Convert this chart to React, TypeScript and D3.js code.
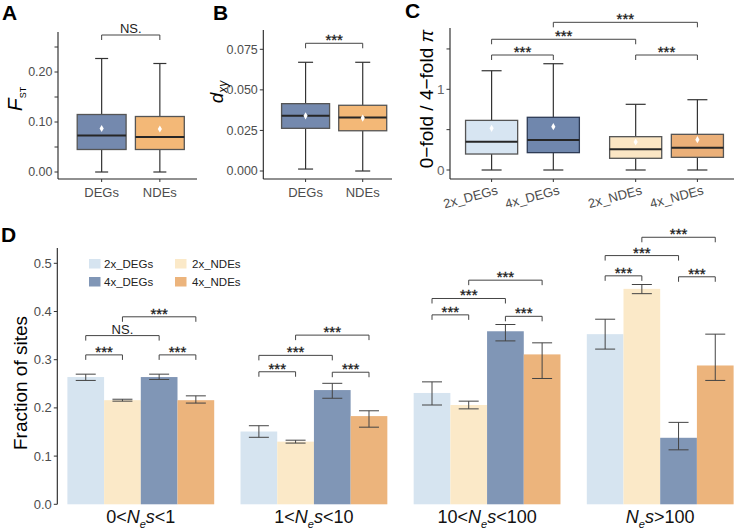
import React from 'react';
import * as d3 from 'd3';

const FONT = '"Liberation Sans", Arial, Helvetica, sans-serif';

// ---- panel A : Fst
const aCats = ['DEGs', 'NDEs'];
const aLow = [0, 0];
const aQ1 = [0.045, 0.045];
const aMed = [0.073, 0.07];
const aQ3 = [0.115, 0.111];
const aHigh = [0.227, 0.217];
const aMean = [0.087, 0.086];
const aTicks = [0, 0.1, 0.2];
const aTickLabels = ['0.00', '0.10', '0.20'];
const aMinor = [0.05, 0.15, 0.25];

// ---- panel B : dxy
const bCats = ['DEGs', 'NDEs'];
const bLow = [0.0012, 0];
const bQ1 = [0.0263, 0.0248];
const bMed = [0.034, 0.033];
const bQ3 = [0.0415, 0.0405];
const bHigh = [0.067, 0.067];
const bMean = [0.034, 0.0326];
const bTicks = [0, 0.025, 0.05, 0.075];
const bTickLabels = ['0.000', '0.025', '0.050', '0.075'];

// ---- panel C : 0-fold / 4-fold pi
const cGroups = ['DEGs', 'NDEs'];
const cSub = ['2x', '4x'];
const cLow = [0, 0, 0, 0];
const cQ1 = [0.198, 0.215, 0.145, 0.157];
const cMed = [0.35, 0.372, 0.256, 0.277];
const cQ3 = [0.615, 0.653, 0.413, 0.442];
const cHigh = [1.23, 1.317, 0.814, 0.871];
const cMean = [0.517, 0.537, 0.347, 0.376];
const cTicks = [0, 1];
const cTickLabels = ['0', '1'];
const cMinor = [0.5, 1.5];
// brackets: [from, to, y, label]
const cBrackets: [number, number, number, string][] = [
  [0, 1, 1.425, '***'],
  [2, 3, 1.425, '***'],
  [0, 2, 1.62, '***'],
  [1, 3, 1.83, '***'],
];

// ---- panel D : fraction of sites
const dSeries = ['2x_DEGs', '2x_NDEs', '4x_DEGs', '4x_NDEs'];
const dGroups = ['g1', 'g2', 'g3', 'g4'];
const dPre = ['0<', '1<', '10<', ''];
const dPost = ['<1', '<10', '<100', '>100'];
const dVal = [
  [0.264, 0.216, 0.264, 0.216],
  [0.151, 0.13, 0.237, 0.183],
  [0.231, 0.206, 0.359, 0.311],
  [0.353, 0.447, 0.138, 0.288],
];
const dLo = [
  [0.257, 0.214, 0.259, 0.21],
  [0.139, 0.127, 0.22, 0.16],
  [0.206, 0.198, 0.339, 0.261],
  [0.322, 0.437, 0.113, 0.257],
];
const dHi = [
  [0.27, 0.218, 0.27, 0.225],
  [0.163, 0.133, 0.251, 0.194],
  [0.254, 0.214, 0.373, 0.335],
  [0.384, 0.456, 0.17, 0.353],
];
const dTicks = [0, 0.1, 0.2, 0.3, 0.4, 0.5];
const dTickLabels = ['0.0', '0.1', '0.2', '0.3', '0.4', '0.5'];
const dPairs: [number, number][] = [
  [0, 1],
  [0, 2],
  [1, 3],
  [2, 3],
];
const dBracketY = [
  [0.31, 0.35, 0.389, 0.31],
  [0.275, 0.309, 0.351, 0.274],
  [0.393, 0.427, 0.465, 0.39],
  [0.474, 0.516, 0.554, 0.472],
];
const dBracketLab = [
  ['***', 'NS.', '***', '***'],
  ['***', '***', '***', '***'],
  ['***', '***', '***', '***'],
  ['***', '***', '***', '***'],
];

const barFill: Record<string, string> = {
  '2x_DEGs': '#d6e4f0',
  '2x_NDEs': '#fbe9c8',
  '4x_DEGs': '#8096b6',
  '4x_NDEs': '#ecb47c',
};
const boxFill: Record<string, string> = {
  '2x_DEGs': '#d7e5f2',
  '4x_DEGs': '#7087ad',
  '2x_NDEs': '#fbe6c4',
  '4x_NDEs': '#ebb079',
  DEGs: '#7489ae',
  NDEs: '#f3b877',
};

const diamond = d3.symbol(d3.symbolDiamond, 15)() as string;

type Lin = d3.ScaleLinear<number, number>;

const YAxis = ({ x, y, top, bottom, ticks, labels, minor = [], fs = 12.5, color = '#4d4d4d' }: any) => (
  <g>
    <line x1={x} x2={x} y1={top} y2={bottom} stroke="#222" strokeWidth={1.1} />
    {ticks.map((t: number, i: number) => (
      <g key={i}>
        <line x1={x - 3.5} x2={x} y1={y(t)} y2={y(t)} stroke="#333" />
        <text x={x - 5.5} y={y(t)} dy="0.35em" textAnchor="end" fontSize={fs} fill={color}>
          {labels[i]}
        </text>
      </g>
    ))}
    {minor.map((t: number, i: number) => (
      <line key={'m' + i} x1={x - 3.5} x2={x} y1={y(t)} y2={y(t)} stroke="#333" />
    ))}
  </g>
);

const Bracket = ({ x1, x2, y, label, fs = 15 }: any) => (
  <g>
    <path d={`M${x1},${y + 5}V${y}H${x2}V${y + 5}`} fill="none" stroke="#444" strokeWidth={1} />
    {label === 'NS.' ? (
      <text x={(x1 + x2) / 2} y={y - 2} textAnchor="middle" fontSize={13} fill="#222">
        {label}
      </text>
    ) : (
      <text x={(x1 + x2) / 2} y={y + 2} textAnchor="middle" fontSize={fs} fill="#1a1a1a" stroke="#1a1a1a" strokeWidth={0.3}>
        {label}
      </text>
    )}
  </g>
);

const BoxGlyph = ({ cx, w, y, low, q1, med, q3, high, mean, fill, stroke, cap }: any) => (
  <g>
    <line x1={cx} x2={cx} y1={y(high)} y2={y(q3)} stroke="#333" strokeWidth={1.2} />
    <line x1={cx} x2={cx} y1={y(q1)} y2={y(low)} stroke="#333" strokeWidth={1.2} />
    <line x1={cx - cap / 2} x2={cx + cap / 2} y1={y(high)} y2={y(high)} stroke="#333" strokeWidth={1.2} />
    <line x1={cx - cap / 2} x2={cx + cap / 2} y1={y(low)} y2={y(low)} stroke="#333" strokeWidth={1.2} />
    <rect x={cx - w / 2} y={y(q3)} width={w} height={y(q1) - y(q3)} fill={fill} stroke={stroke} strokeWidth={1.3} />
    <line x1={cx - w / 2} x2={cx + w / 2} y1={y(med)} y2={y(med)} stroke="#262626" strokeWidth={2} />
    <path d={diamond} transform={`translate(${cx},${y(mean)})`} fill="#fff" />
  </g>
);

const App = () => {
  // ---------- A
  const ayA: Lin = d3.scaleLinear().domain([0, 0.2]).range([172, 72]);
  const axA = d3.scaleBand().domain(aCats).range([58, 203.5]).paddingInner(0.16).paddingOuter(0.33);
  // ---------- B
  const ayB: Lin = d3.scaleLinear().domain([0, 0.075]).range([171, 49.3]);
  const axB = d3.scaleBand().domain(bCats).range([263.3, 405]).paddingInner(0.16).paddingOuter(0.32);
  // ---------- C
  const ayC: Lin = d3.scaleLinear().domain([0, 1]).range([170, 89.3]);
  const cxOuter = d3.scaleBand().domain(cGroups).range([450, 739]).paddingInner(0.21).paddingOuter(0.108);
  const cxInner = d3.scaleBand().domain(cSub).range([0, cxOuter.bandwidth()]).paddingInner(0.156);
  const cItems = cGroups.flatMap((g) => cSub.map((s) => `${s}_${g}`));
  const cCenter = cItems.map((_, i) => {
    const g = cGroups[Math.floor(i / 2)];
    const s = cSub[i % 2];
    return (cxOuter(g) as number) + (cxInner(s) as number) + cxInner.bandwidth() / 2;
  });
  // ---------- D
  const ayD: Lin = d3.scaleLinear().domain([0, 0.5]).range([504.3, 263.3]);
  const dxOuter = d3.scaleBand().domain(dGroups).range([57, 744]).paddingInner(0.152).paddingOuter(0.06);
  const dxInner = d3.scaleBand().domain(dSeries).range([0, dxOuter.bandwidth()]);
  const bw = dxInner.bandwidth();
  const dCx = (gi: number, si: number) =>
    (dxOuter(dGroups[gi]) as number) + (dxInner(dSeries[si]) as number) + bw / 2;

  return (
    <svg
      width={734}
      height={532}
      style={{ position: 'absolute', left: 0, top: 0, background: '#fff', fontFamily: FONT }}
    >
      {/* ================= A ================= */}
      <text x={2} y={20} fontSize={21} fontWeight="bold">A</text>
      <YAxis x={58} y={ayA} top={32} bottom={179} ticks={aTicks} labels={aTickLabels} minor={aMinor} />
      <line x1={58} x2={197} y1={179} y2={179} stroke="#222" strokeWidth={1.1} />
      {aCats.map((c, i) => {
        const cx = (axA(c) as number) + axA.bandwidth() / 2;
        return (
          <g key={c}>
            <BoxGlyph cx={cx} w={axA.bandwidth()} y={ayA} low={aLow[i]} q1={aQ1[i]} med={aMed[i]} q3={aQ3[i]}
              high={aHigh[i]} mean={aMean[i]} fill={boxFill[c]} stroke="#555" cap={13} />
            <line x1={cx} x2={cx} y1={179} y2={182} stroke="#333" />
            <text x={cx} y={197} textAnchor="middle" fontSize={13} fill="#4d4d4d">{c}</text>
          </g>
        );
      })}
      <Bracket x1={(axA('DEGs') as number) + axA.bandwidth() / 2} x2={(axA('NDEs') as number) + axA.bandwidth() / 2}
        y={ayA(0.274)} label="NS." />
      <text transform="translate(22,99) rotate(-90)" textAnchor="middle" fontSize={21} fontStyle="italic">
        F<tspan fontSize={9} fontStyle="normal" dy={4}>ST</tspan>
      </text>

      {/* ================= B ================= */}
      <text x={213} y={20} fontSize={21} fontWeight="bold">B</text>
      <YAxis x={263.3} y={ayB} top={30} bottom={179} ticks={bTicks} labels={bTickLabels} />
      <line x1={263.3} x2={392} y1={179} y2={179} stroke="#222" strokeWidth={1.1} />
      {bCats.map((c, i) => {
        const cx = (axB(c) as number) + axB.bandwidth() / 2;
        return (
          <g key={c}>
            <BoxGlyph cx={cx} w={axB.bandwidth()} y={ayB} low={bLow[i]} q1={bQ1[i]} med={bMed[i]} q3={bQ3[i]}
              high={bHigh[i]} mean={bMean[i]} fill={boxFill[c]} stroke="#555" cap={15} />
            <line x1={cx} x2={cx} y1={179} y2={182} stroke="#333" />
            <text x={cx} y={197} textAnchor="middle" fontSize={13} fill="#4d4d4d">{c}</text>
          </g>
        );
      })}
      <Bracket x1={(axB('DEGs') as number) + axB.bandwidth() / 2} x2={(axB('NDEs') as number) + axB.bandwidth() / 2}
        y={ayB(0.0787)} label="***" />
      <text transform="translate(223,92) rotate(-90)" textAnchor="middle" fontSize={19} fontStyle="italic">
        d<tspan fontSize={12} dy={4}>xy</tspan>
      </text>

      {/* ================= C ================= */}
      <text x={405} y={18} fontSize={21} fontWeight="bold">C</text>
      <YAxis x={450} y={ayC} top={28} bottom={179} ticks={cTicks} labels={cTickLabels} minor={cMinor} fs={13.5} color="#666" />
      <line x1={450} x2={734} y1={179} y2={179} stroke="#222" strokeWidth={1.1} />
      {cItems.map((c, i) => (
        <g key={c}>
          <BoxGlyph cx={cCenter[i]} w={cxInner.bandwidth()} y={ayC} low={cLow[i]} q1={cQ1[i]} med={cMed[i]} q3={cQ3[i]}
            high={cHigh[i]} mean={cMean[i]} fill={boxFill[c]} stroke={c === '4x_DEGs' ? '#2e3b55' : '#555'} cap={20} />
          <line x1={cCenter[i]} x2={cCenter[i]} y1={179} y2={182} stroke="#333" />
          <text transform={`translate(${cCenter[i] + 7},${194}) rotate(-15)`} textAnchor="end" fontSize={13} fill="#4d4d4d">
            {c}
          </text>
        </g>
      ))}
      {cBrackets.map(([f, t, yv, lab], i) => (
        <Bracket key={i} x1={cCenter[f]} x2={cCenter[t]} y={ayC(yv)} label={lab} />
      ))}
      <text transform="translate(433,99) rotate(-90)" textAnchor="middle" fontSize={19}>
        0−fold / 4−fold <tspan fontStyle="italic">π</tspan>
      </text>

      {/* ================= D ================= */}
      <text x={1} y={242} fontSize={21} fontWeight="bold">D</text>
      <YAxis x={57.3} y={ayD} top={248} bottom={504.3} ticks={dTicks} labels={dTickLabels} fs={13} />
      {dGroups.map((g, gi) => (
        <g key={g}>
          {dSeries.map((s, si) => {
            const cx = dCx(gi, si);
            return (
              <g key={s}>
                <rect x={cx - bw / 2} y={ayD(dVal[gi][si])} width={bw} height={ayD(0) - ayD(dVal[gi][si])} fill={barFill[s]} />
                <path
                  d={`M${cx - 10},${ayD(dHi[gi][si])}H${cx + 10}M${cx},${ayD(dHi[gi][si])}V${ayD(dLo[gi][si])}M${cx - 10},${ayD(dLo[gi][si])}H${cx + 10}`}
                  fill="none" stroke="#444" strokeWidth={1}
                />
              </g>
            );
          })}
          {dPairs.map(([f, t], k) => (
            <Bracket key={k} x1={dCx(gi, f)} x2={dCx(gi, t)} y={ayD(dBracketY[gi][k])} label={dBracketLab[gi][k]} />
          ))}
          <text x={(dxOuter(g) as number) + dxOuter.bandwidth() / 2} y={523} textAnchor="middle" fontSize={18} fill="#111">
            {dPre[gi]}
            <tspan fontStyle="italic">N</tspan>
            <tspan fontStyle="italic" fontSize={11} dy={5}>e</tspan>
            <tspan fontStyle="italic" dy={-5}>s</tspan>
            {dPost[gi]}
          </text>
        </g>
      ))}
      <text transform="translate(27,383) rotate(-90)" textAnchor="middle" fontSize={19}>Fraction of sites</text>
      {/* legend */}
      {dSeries.map((s, i) => {
        const col = s.endsWith('DEGs') ? 0 : 1;
        const row = s.startsWith('2x') ? 0 : 1;
        const sx = [89, 175][col];
        const tx = [104, 192][col];
        const sy = [259, 277][row];
        return (
          <g key={s}>
            <rect x={sx} y={sy} width={11.5} height={9.5} fill={barFill[s]} />
            <text x={tx} y={sy + 8.5} fontSize={11.5} fill="#222">{s}</text>
          </g>
        );
      })}
    </svg>
  );
};

export default App;
